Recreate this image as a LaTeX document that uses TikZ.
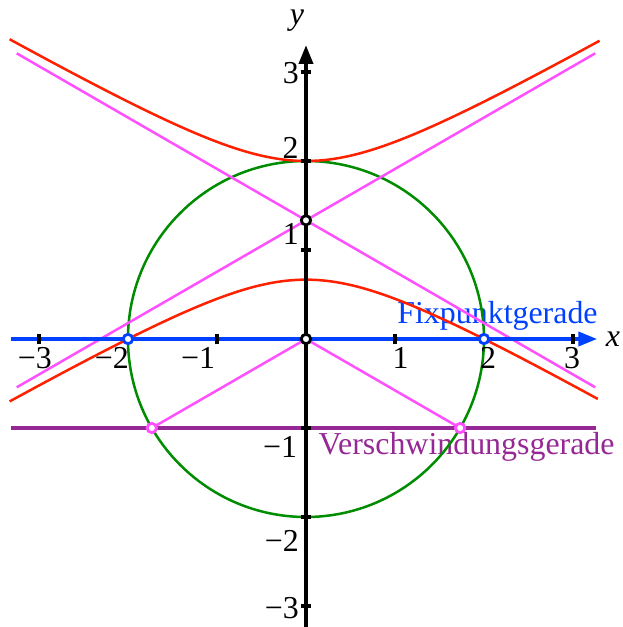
\documentclass[tikz,border=0pt]{standalone}
\usepackage{fontspec}
\setmainfont{Liberation Serif}
\usepackage{xcolor}
\usetikzlibrary{arrows.meta}
\definecolor{hypred}{RGB}{255,32,0}
\definecolor{asympink}{RGB}{255,80,255}
\definecolor{kreisgreen}{RGB}{0,140,0}
\definecolor{fixblue}{RGB}{0,64,255}
\definecolor{vanpurple}{RGB}{150,40,150}

\begin{document}
\begin{tikzpicture}[x=1cm, y=1cm, font=\fontsize{10.2}{12}\selectfont,
    kurve/.style={line width=0.8pt},
    achse/.style={line width=1pt},
    spitze/.style={-{Triangle[length=2.1mm, width=1.6mm]}},
    punkt/.style={circle, line width=0.9pt, fill=white, inner sep=0pt, minimum size=1.05mm}]
				\def\r{2}
				\pgfmathsetmacro{\s}{sqrt(3)}
				\useasboundingbox (-3.438,-3.236) rectangle (3.551,3.809);
				
				% Beschriftung der beiden Geraden
				\node[fixblue, anchor=base west, inner sep=0pt] (fix) at (1.02,0.17) {Fixpunktgerade};
				\node[vanpurple, anchor=base west, inner sep=0pt] (ver) at (0.135,-1.303) {Verschwindungsgerade};
				
				% Verschwindungsgerade y = -1
				\draw[vanpurple, achse] (-3.31,-1) -- (3.26,-1);
				
				% Kreis mit Radius 2
				\draw[kreisgreen, kurve] (0,0) circle (\r);
				
				% Asymptoten der Hyperbel
				\draw[asympink, kurve] (-3.25,{-3.25/\s+4/3}) -- (3.25,{3.25/\s+4/3});
				\draw[asympink, kurve] (-3.25,{3.25/\s+4/3}) -- (3.25,{-3.25/\s+4/3});
				
				% Strahlen vom Zentrum zu den Verschwindungspunkten
				\coordinate (O) at (0,0);
				\coordinate (V1) at (-\s,-1);
				\coordinate (V2) at (\s,-1);
				\draw[asympink, kurve] (V1) -- (O) -- (V2);
				
				% Hyperbel (beide Aeste)
				\draw[hypred, kurve, smooth, samples=100, domain=-3.33:3.3] plot(\x, {4/3+2/3*sqrt(1+0.75*\x*\x)});
				\draw[hypred, kurve, smooth, samples=100, domain=-3.33:3.28] plot(\x, {4/3-2/3*sqrt(1+0.75*\x*\x)});
				
				% Achsen
				\draw[fixblue, achse, spitze] (-3.31,0) -- (3.27,0);
				\draw[black, achse, spitze] (0,-3.3) -- (0,3.30);
				\node (xl) at (3.45,0) {\textit{x}};
				\node (yl) at (-0.1,3.58) {\textit{y}};
				
				% Teilstriche
				\foreach \t in {-3,-2,-1,1,2,3} {
					\draw[black, achse] (\t,-0.06) -- (\t,0.06);
					\draw[black, achse] (-0.06,\t) -- (0.06,\t);
				}
				
				% Zahlen an der x-Achse
				\foreach \p/\lab/\n in {-3.045/−3/1, -2.18/−2/2, -1.213/−1/3, 1.062/1/4, 2.045/2/5, 2.99/3/6}
					\node (lx\n) at (\p,-0.213) {\lab};
				
				% Zahlen an der y-Achse
				\foreach \p/\q/\lab/\n in {-0.169/2.99/3/1, -0.174/2.146/2/2, -0.17/1.18/1/3, -0.29/-1.21/−1/4, -0.27/-2.27/−2/5, -0.27/-3.02/−3/6}
					\node (ly\n) at (\p,\q) {\lab};
				
				% Punkte
				\node[punkt, draw=black] (Z) at (O) {};
				\node[punkt, draw=black] (M) at (0,4/3) {};
				\node[punkt, draw=fixblue] (F1) at (-\r,0) {};
				\node[punkt, draw=fixblue] (F2) at (\r,0) {};
				\node[punkt, draw=asympink] (P1) at (V1) {};
				\node[punkt, draw=asympink] (P2) at (V2) {};
			\end{tikzpicture}
\end{document}
